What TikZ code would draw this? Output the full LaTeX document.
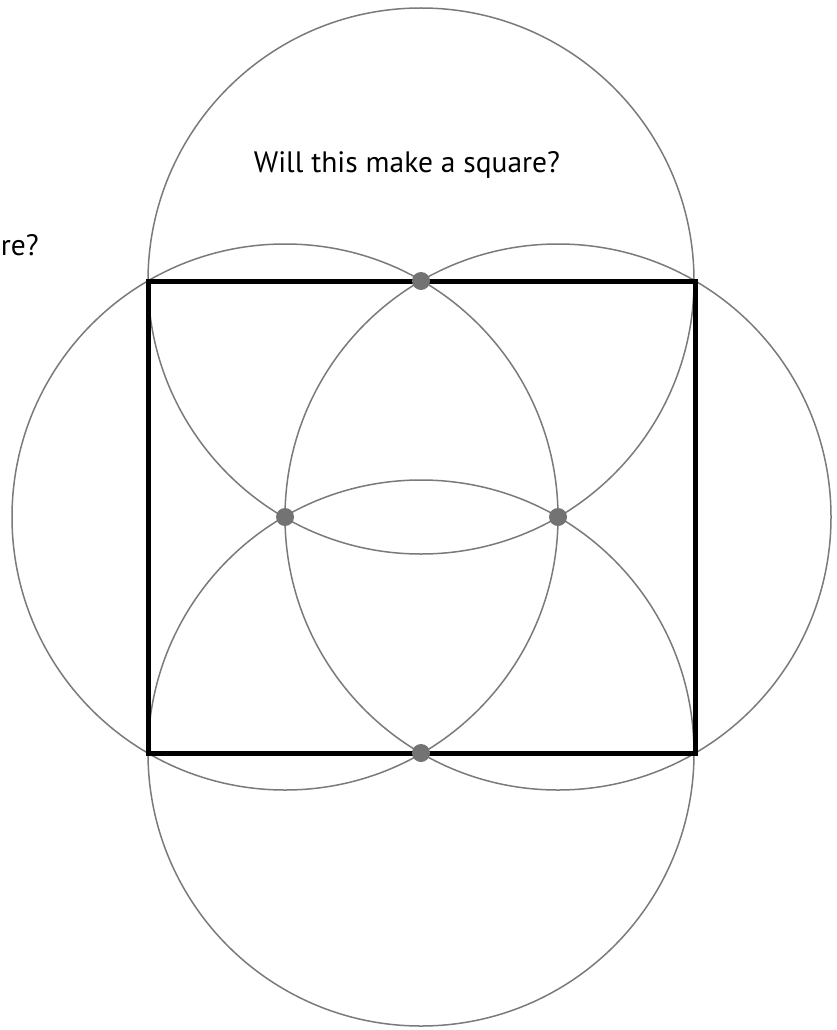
\documentclass[tikz,border=0pt]{standalone}
\usepackage{fontspec}
\setmainfont{PT Sans}
\begin{document}
\begin{tikzpicture}[x=1pt,y=-1pt,
  guide/.style={draw=black!52,line width=1.5pt},
  sq/.style={draw=black,line width=5pt},
  pt/.style={circle,fill=black!55,inner sep=0pt,minimum size=18pt},
  lbl/.style={font=\fontsize{29.5}{34}\selectfont,inner sep=0pt}]
\useasboundingbox (0,0) rectangle (837,1030);
\clip (0,0) rectangle (837,1030);
\coordinate (ct) at (421,281);
\coordinate (cl) at (285,517);
\coordinate (cr) at (558,517);
\coordinate (cb) at (421,753);
\draw[guide] (ct) circle (273);
\draw[guide] (cb) circle (273);
\draw[guide] (cl) circle (273);
\draw[guide] (cr) circle (273);
\coordinate (a) at (148,281);
\coordinate (b) at (695,753);
\draw[sq] (a) rectangle (b);
\node[pt] (pt) at (ct) {};
\node[pt] (pl) at (cl) {};
\node[pt] (pr) at (cr) {};
\node[pt] (pb) at (cb) {};
\node[lbl,anchor=base] (q1) at (407,172) {Will this make a square?};
\node[lbl,anchor=base east] (q2) at (39,255) {Will this make a square?};
\end{tikzpicture}
\end{document}
